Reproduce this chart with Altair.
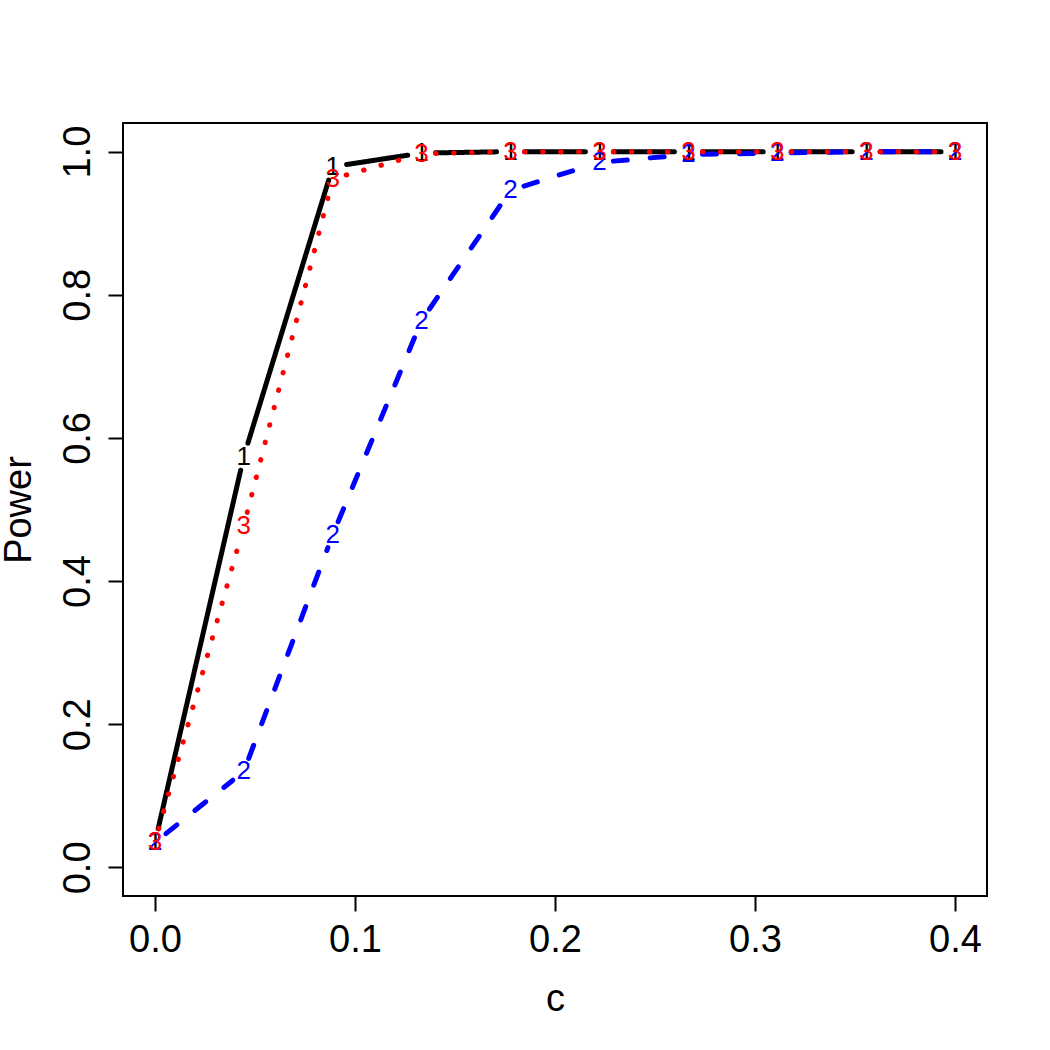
import math
import altair as alt
import pandas as pd

# Grid of c values and the power of the three tests at each of them
c_vals = [0.0, 0.0444, 0.0889, 0.1333, 0.1778, 0.2222, 0.2667, 0.3111, 0.3556, 0.4]
power_1 = [0.035, 0.574, 0.979, 0.998, 1.0, 1.0, 1.0, 1.0, 1.0, 1.0]
power_2 = [0.035, 0.134, 0.465, 0.764, 0.946, 0.985, 0.996, 0.998, 1.0, 1.0]
power_3 = [0.035, 0.477, 0.962, 0.997, 1.0, 1.0, 1.0, 1.0, 1.0, 1.0]

series_labels = ["1", "2", "3"]
series_colors = ["#000000", "#0000ff", "#ff0000"]
series_values = [power_1, power_2, power_3]
series_dash = [[1, 0], [14, 23], [0.5, 17.5]]

x_ticks = [0.0, 0.1, 0.2, 0.3, 0.4]
y_ticks = [0.0, 0.2, 0.4, 0.6, 0.8, 1.0]

PLOT_W, PLOT_H = 864, 773
X_DOM = [-0.016, 0.416]
Y_DOM = [-0.04, 1.04]
GAP_PX = 14  # blank space left around each plotted number
FONT = "Liberation Sans"

px_x = PLOT_W / (X_DOM[1] - X_DOM[0])
px_y = PLOT_H / (Y_DOM[1] - Y_DOM[0])

xs = alt.Scale(domain=X_DOM, nice=False, zero=False)
ys = alt.Scale(domain=Y_DOM, nice=False, zero=False)

x_axis = alt.Axis(values=x_ticks, format=".1f", title="c", grid=False, domain=False,
                  tickSize=15, tickWidth=2, tickColor="black",
                  labelFontSize=38, labelFont=FONT, labelColor="black",
                  labelBaseline="alphabetic", labelPadding=40, labelFlush=False,
                  titleFontSize=38, titleFont=FONT, titleFontWeight="normal",
                  titleColor="black", titleBaseline="alphabetic", titleY=114)
y_axis = alt.Axis(values=y_ticks, format=".1f", title="Power", grid=False, domain=False,
                  tickSize=15, tickWidth=2, tickColor="black",
                  labelFontSize=38, labelFont=FONT, labelColor="black",
                  labelAngle=-90, labelAlign="center", labelBaseline="alphabetic",
                  labelPadding=19, labelFlush=False,
                  titleFontSize=38, titleFont=FONT, titleFontWeight="normal",
                  titleColor="black", titleAngle=-90, titleBaseline="alphabetic",
                  titleAlign="center", titleX=-93, titleY=PLOT_H / 2)


def segments(xv, yv):
    """Line pieces between consecutive points, shortened so the numbers sit in gaps."""
    rows = []
    for i in range(len(xv) - 1):
        x0, y0, x1, y1 = xv[i], yv[i], xv[i + 1], yv[i + 1]
        length = math.hypot((x1 - x0) * px_x, (y1 - y0) * px_y)
        if length <= 2 * GAP_PX:
            continue
        f = GAP_PX / length
        rows.append({
            "x": x0 + (x1 - x0) * f, "y": y0 + (y1 - y0) * f,
            "x2": x1 - (x1 - x0) * f, "y2": y1 - (y1 - y0) * f,
        })
    return pd.DataFrame(rows)


layers = []
for lab, vals, col, dash in zip(series_labels, series_values, series_colors, series_dash):
    seg = segments(c_vals, vals)
    rule = alt.Chart(seg).mark_rule(
        color=col, strokeWidth=5, strokeDash=dash, strokeCap="round"
    ).encode(
        x=alt.X("x:Q", scale=xs, axis=x_axis),
        x2="x2:Q",
        y=alt.Y("y:Q", scale=ys, axis=y_axis),
        y2="y2:Q",
    )
    pts = pd.DataFrame({"x": c_vals, "y": vals, "lab": lab})
    text = alt.Chart(pts).mark_text(
        font=FONT, fontSize=26, color=col, align="center", baseline="middle"
    ).encode(
        x=alt.X("x:Q", scale=xs, axis=x_axis),
        y=alt.Y("y:Q", scale=ys, axis=y_axis),
        text="lab:N",
    )
    layers += [rule, text]

chart = alt.layer(*layers).properties(
    width=PLOT_W,
    height=PLOT_H,
    padding={"left": 123, "top": 123, "right": 63, "bottom": 154},
    autosize=alt.AutoSizeParams(type="none"),
    background="white",
).configure_view(stroke="black", strokeWidth=2)

chart.save("out.html", embed_options={"renderer": "svg", "actions": False})
